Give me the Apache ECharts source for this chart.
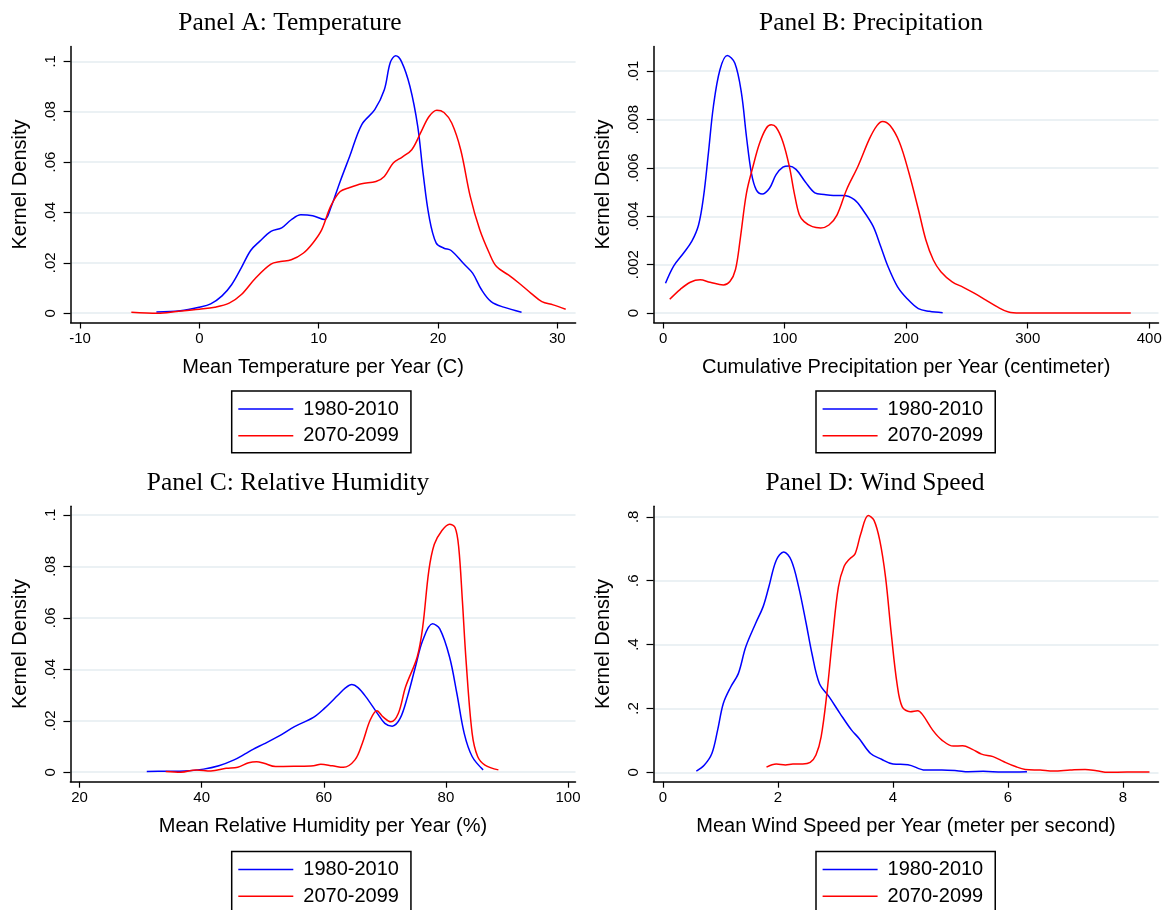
<!DOCTYPE html>
<html>
<head>
<meta charset="utf-8">
<script src="https://cdn.jsdelivr.net/npm/echarts@6/dist/echarts.min.js"></script>
<style>html,body{margin:0;padding:0;background:#fff;}#c{width:1170px;height:910px;}</style>
</head>
<body>
<div id="c"></div>
<script>
// ---------- data ----------
const panelTitles = ['Panel A: Temperature', 'Panel B: Precipitation', 'Panel C: Relative Humidity', 'Panel D: Wind Speed'];
const xNames = ['Mean Temperature per Year (C)', 'Cumulative Precipitation per Year (centimeter)', 'Mean Relative Humidity per Year (%)', 'Mean Wind Speed per Year (meter per second)'];
const yName = 'Kernel Density';
const seriesNames = ['1980-2010', '2070-2099'];

const xTicksA = [-10, 0, 10, 20, 30];
const yTicksA = [0, 0.02, 0.04, 0.06, 0.08, 0.1];
const xTicksB = [0, 100, 200, 300, 400];
const yTicksB = [0, 0.002, 0.004, 0.006, 0.008, 0.01];
const xTicksC = [20, 40, 60, 80, 100];
const yTicksC = [0, 0.02, 0.04, 0.06, 0.08, 0.1];
const xTicksD = [0, 2, 4, 6, 8];
const yTicksD = [0, 0.2, 0.4, 0.6, 0.8];

const tempHist = [[-3.6,0.0005],[-1.6,0.001],[0,0.0024],[0.95,0.0037],[1.9,0.0069],[2.7,0.0113],[3.5,0.0179],[4.3,0.0249],[5.05,0.0285],[6.0,0.0325],[6.9,0.0339],[7.7,0.0371],[8.5,0.0391],[9.5,0.0387],[10.5,0.0372],[11.0,0.0417],[11.8,0.0523],[12.6,0.0623],[13.6,0.0748],[14.7,0.0808],[15.5,0.0887],[16.0,0.0995],[16.45,0.1022],[16.95,0.0998],[17.65,0.09],[18.3,0.0742],[18.75,0.0556],[19.25,0.0384],[19.85,0.0278],[20.5,0.0258],[21.1,0.0249],[22.1,0.0199],[22.9,0.0159],[23.65,0.0093],[24.45,0.0046],[25.5,0.0024],[27.0,0.0004]];
const tempFut = [[-5.7,0.0004],[-3.5,0.0],[-1.9,0.0007],[0,0.0016],[1.3,0.0024],[2.5,0.004],[3.5,0.0073],[4.7,0.0139],[6.0,0.0195],[6.8,0.0205],[7.7,0.0212],[8.7,0.0238],[9.5,0.0278],[10.25,0.0331],[11.0,0.0424],[11.8,0.0483],[12.6,0.0499],[13.6,0.0514],[14.8,0.0523],[15.5,0.0543],[16.25,0.0596],[17.0,0.062],[17.8,0.0649],[18.6,0.0722],[19.25,0.0781],[19.9,0.0806],[20.5,0.0797],[21.15,0.0755],[21.9,0.0649],[22.7,0.0464],[23.5,0.0331],[24.3,0.0238],[24.9,0.0185],[25.9,0.0152],[26.8,0.0119],[27.8,0.0079],[28.7,0.0046],[29.65,0.0033],[30.7,0.0016]];

const precipHist = [[1.9,0.00123],[8.7,0.00195],[16.8,0.00248],[23.6,0.00297],[29.1,0.00364],[33.2,0.00481],[37.2,0.00661],[41.3,0.00854],[46.7,0.01006],[52.7,0.01065],[59,0.01033],[64.4,0.00909],[68.5,0.0073],[72.6,0.00578],[76.6,0.00509],[81.5,0.00492],[87.5,0.00516],[92.9,0.00572],[98.5,0.00603],[103.5,0.00608],[109.3,0.00594],[117,0.00542],[124.8,0.00497],[132.5,0.0049],[140,0.00486],[148,0.00486],[157.3,0.00469],[165,0.00421],[172.8,0.00358],[179,0.00275],[185,0.00192],[192.9,0.00108],[200.6,0.0006],[210,0.00018],[219,0.00007],[230,0.00001]];
const precipFut = [[5.4,0.00057],[14.1,0.00098],[22.3,0.00127],[30.4,0.00137],[38.6,0.00127],[49.5,0.00116],[54.9,0.0013],[59.5,0.0018],[63.5,0.0031],[68.5,0.00495],[73.9,0.00606],[79.3,0.00702],[84.8,0.00764],[88.9,0.00778],[92.9,0.00768],[98.4,0.00709],[103.8,0.00606],[107.9,0.00495],[112,0.00406],[116,0.00378],[122.8,0.00357],[129.6,0.00352],[136.4,0.00364],[143,0.00405],[151,0.00511],[160.4,0.00608],[169.7,0.0072],[175.9,0.00775],[180.5,0.00792],[186.7,0.00775],[194.4,0.00706],[202.2,0.0058],[210,0.00428],[216.1,0.00303],[222.3,0.00219],[228.5,0.00171],[237.8,0.00129],[247,0.00106],[256.3,0.00081],[265.6,0.00053],[275,0.00025],[284.2,0.00004],[293.5,0],[384.8,0]];

const humidHist = [[31.0,0.0003],[34.1,0.0004],[37.2,0.0005],[40.3,0.0012],[42.8,0.0025],[45.3,0.0048],[47.1,0.0071],[48.4,0.0089],[50.2,0.011],[52.7,0.0141],[55.2,0.0177],[58.3,0.0213],[60.1,0.0248],[62.3,0.0299],[63.5,0.0327],[64.6,0.0341],[65.6,0.0329],[66.9,0.0293],[68.8,0.0228],[70.0,0.019],[71.2,0.0179],[72.5,0.0209],[73.7,0.0293],[75.0,0.0409],[76.2,0.0512],[77.8,0.0577],[79.0,0.0557],[80.6,0.0448],[81.8,0.0306],[83.0,0.0151],[84.3,0.0061],[86.1,0.0009]];
const humidFut = [[34.1,0.0003],[36.6,0.0],[39.1,0.0009],[41.5,0.0005],[44.0,0.0015],[45.9,0.0019],[47.7,0.0037],[49.0,0.0041],[50.2,0.0035],[52.1,0.0022],[55.2,0.0023],[58.3,0.0025],[59.5,0.0031],[61.4,0.0025],[63.2,0.0019],[65.1,0.0048],[66.3,0.0112],[67.6,0.0203],[68.7,0.0239],[69.7,0.0215],[71.0,0.0196],[72.2,0.0228],[73.4,0.0332],[75.3,0.0448],[76.2,0.0564],[77.2,0.0783],[78.1,0.0886],[79.3,0.0938],[80.6,0.0964],[81.5,0.0951],[82.1,0.0874],[82.7,0.0667],[83.3,0.0435],[84.3,0.0151],[85.2,0.0061],[86.4,0.0028],[88.6,0.0009]];

const windHist = [[0.58,0.004],[0.72,0.023],[0.85,0.059],[0.95,0.132],[1.05,0.216],[1.18,0.268],[1.31,0.309],[1.44,0.393],[1.61,0.466],[1.74,0.518],[1.84,0.58],[1.97,0.664],[2.1,0.69],[2.23,0.664],[2.36,0.58],[2.49,0.466],[2.59,0.372],[2.72,0.278],[2.89,0.236],[3.08,0.184],[3.28,0.132],[3.41,0.106],[3.61,0.059],[3.8,0.041],[4.0,0.026],[4.26,0.024],[4.56,0.007],[4.85,0.007],[5.11,0.005],[5.31,0.002],[5.57,0.003],[5.9,0.001],[6.33,0.002]];
const windFut = [[1.8,0.016],[1.97,0.026],[2.13,0.023],[2.26,0.026],[2.43,0.026],[2.56,0.031],[2.66,0.054],[2.75,0.111],[2.85,0.247],[2.95,0.424],[3.05,0.58],[3.15,0.645],[3.25,0.669],[3.34,0.684],[3.44,0.747],[3.57,0.804],[3.67,0.789],[3.77,0.726],[3.87,0.611],[3.97,0.434],[4.07,0.278],[4.16,0.205],[4.3,0.19],[4.43,0.193],[4.52,0.179],[4.69,0.132],[4.85,0.101],[5.05,0.082],[5.21,0.083],[5.38,0.072],[5.54,0.057],[5.74,0.049],[5.93,0.033],[6.13,0.018],[6.3,0.009],[6.56,0.007],[6.79,0.004],[7.08,0.007],[7.34,0.009],[7.54,0.005],[7.74,0.0],[8.07,0.001],[8.46,0.001]];

// ---------- layout ----------
const SANS = 'Liberation Sans, Arial, sans-serif';
const SERIF = 'Liberation Serif, Times New Roman, serif';
const panels = [
  {grid:{left:70.6, top:46.5, width:505, height:276}, xr:[-10.79,31.53], yr:[-0.00369,0.10588], xt:xTicksA, yt:yTicksA, data:[tempHist,tempFut], title:{x:285,y:5}, legend:{x:231.7,y:391}},
  {grid:{left:653.8, top:46.5, width:504.7, height:276}, xr:[-7.73,407.6], yr:[-0.000393,0.011021], xt:xTicksB, yt:yTicksB, data:[precipHist,precipFut], title:{x:866,y:5}, legend:{x:816,y:391}},
  {grid:{left:70.4, top:506.3, width:505.1, height:275.4}, xr:[18.49,101.23], yr:[-0.00369,0.10338], xt:xTicksC, yt:yTicksC, data:[humidHist,humidFut], title:{x:283,y:465}, legend:{x:231.7,y:851.5}},
  {grid:{left:653.5, top:506.3, width:505, height:275.4}, xr:[-0.165,8.617], yr:[-0.0294,0.8329], xt:xTicksD, yt:yTicksD, data:[windHist,windFut], title:{x:870,y:465}, legend:{x:816,y:851.5}}
];
const colors = ['#0000ff', '#ff0000'];

function fmt(v) {
  if (Math.abs(v) < 1e-12) return '0';
  let s = String(+Number(v).toFixed(6));
  return s.replace(/^0\./, '.').replace(/^-0\./, '-.');
}

const option = {
  backgroundColor: '#ffffff',
  animation: false,
  title: panels.map((p, i) => ({
    text: panelTitles[i], left: p.title.x, top: p.title.y, textAlign: 'center',
    textStyle: {fontFamily: SERIF, fontSize: 25.5, fontWeight: 'normal', color: '#000'}
  })),
  legend: panels.map((p) => ({
    data: seriesNames.map(n => ({name: n, icon: 'rect'})),
    orient: 'vertical', left: p.legend.x, top: p.legend.y, height: 80,
    borderColor: '#000', borderWidth: 1.5, padding: [8, 12, 7, 6.6],
    itemWidth: 55, itemHeight: 1.6, itemGap: 6.7, selectedMode: false,
    textStyle: {fontFamily: SANS, fontSize: 20, color: '#000', padding: [0, 0, 0, 5]}
  })),
  grid: panels.map(p => Object.assign({containLabel: false, outerBoundsMode: 'none'}, p.grid)),
  xAxis: panels.map((p, i) => ({
    gridIndex: i, type: 'value', min: p.xr[0], max: p.xr[1],
    axisLine: {show: true, onZero: false, lineStyle: {color: '#000', width: 1.5}},
    axisTick: {show: true, length: 6, lineStyle: {color: '#000', width: 1.2}, customValues: p.xt},
    axisLabel: {customValues: p.xt, margin: 8.5, fontSize: 15, fontFamily: SANS, color: '#000', formatter: fmt},
    splitLine: {show: false},
    name: xNames[i], nameLocation: 'middle', nameGap: 35,
    nameTextStyle: {fontFamily: SANS, fontSize: 20, color: '#000'}
  })),
  yAxis: panels.map((p, i) => ({
    gridIndex: i, type: 'value', min: p.yr[0], max: p.yr[1],
    axisLine: {show: true, onZero: false, lineStyle: {color: '#000', width: 1.5}},
    axisTick: {show: true, length: 7, lineStyle: {color: '#000', width: 1.2}, customValues: p.yt},
    axisLabel: {customValues: p.yt, rotate: 90, margin: 12, fontSize: 15, fontFamily: SANS, color: '#000', formatter: fmt},
    splitLine: {show: true, lineStyle: {color: '#e4edf0', width: 1.5}},
    name: yName, nameLocation: 'middle', nameGap: 40, nameRotate: 90,
    nameTextStyle: {fontFamily: SANS, fontSize: 20, color: '#000'}
  })),
  series: []
};
panels.forEach((p, i) => {
  p.data.forEach((d, k) => {
    option.series.push({
      type: 'line', name: seriesNames[k], xAxisIndex: i, yAxisIndex: i,
      data: d, symbol: 'none', smooth: 0.35, clip: false,
      lineStyle: {color: colors[k], width: 1.5}, itemStyle: {color: colors[k]}
    });
  });
});

const chart = echarts.init(document.getElementById('c'), null, {renderer: 'canvas'});
chart.setOption(option);
</script>
</body>
</html>
